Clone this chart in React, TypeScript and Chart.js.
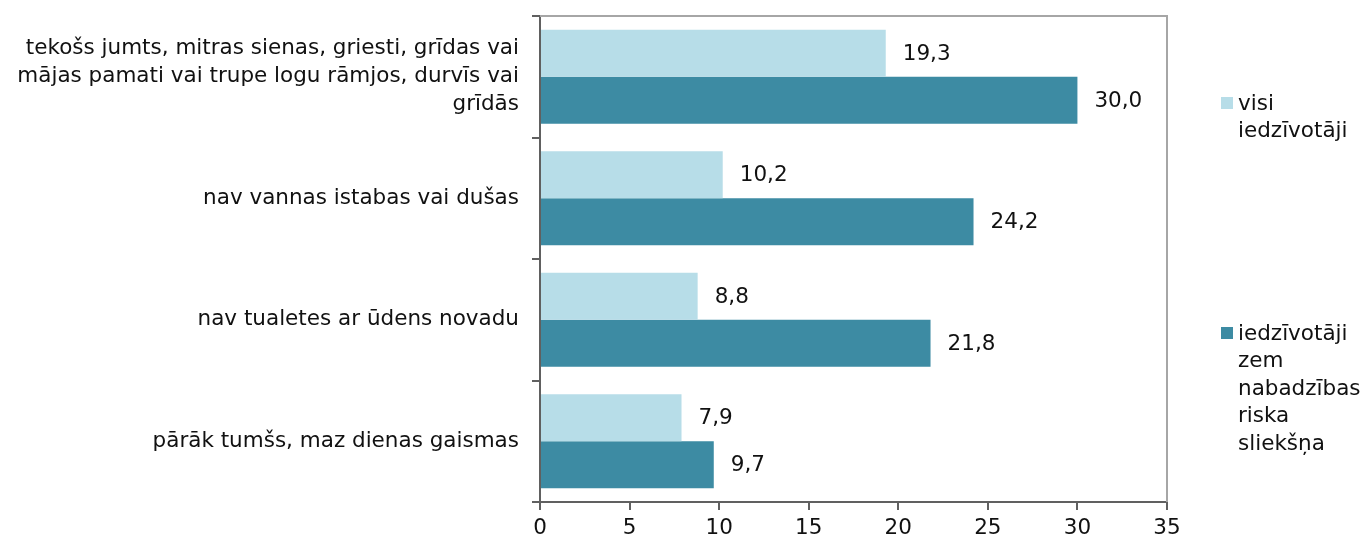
import React, { useEffect, useRef } from "react";
import { Chart, registerables } from "chart.js";

Chart.register(...registerables);

const categories: string[][] = [
  [
    "tekošs jumts, mitras sienas, griesti, grīdas vai",
    "mājas pamati vai trupe logu rāmjos, durvīs vai",
    "grīdās",
  ],
  ["nav vannas istabas vai dušas"],
  ["nav tualetes ar ūdens novadu"],
  ["pārāk tumšs, maz dienas gaismas"],
];

const allResidents: number[] = [19.3, 10.2, 8.8, 7.9];
const belowPovertyRisk: number[] = [30.0, 24.2, 21.8, 9.7];

const seriesNames: string[][] = [
  ["visi", "iedzīvotāji"],
  ["iedzīvotāji", "zem", "nabadzības", "riska", "sliekšņa"],
];

const xMin = 0;
const xMax = 35;
const xStep = 5;

const COLORS = ["#B7DDE8", "#3D8BA3"];
const FONT = "'DejaVu Sans', Verdana, sans-serif";
const FONT_SIZE = 21.5;
const TEXT = "#111111";

const fmt = (v: number) => v.toFixed(1).replace(".", ",");

const valueLabels = {
  id: "valueLabels",
  afterDatasetsDraw(chart: any) {
    const ctx = chart.ctx;
    ctx.save();
    ctx.font = `${FONT_SIZE}px ${FONT}`;
    ctx.fillStyle = TEXT;
    ctx.textAlign = "left";
    ctx.textBaseline = "middle";
    chart.data.datasets.forEach((ds: any, di: number) => {
      const meta = chart.getDatasetMeta(di);
      meta.data.forEach((bar: any, i: number) => {
        ctx.fillText(fmt(ds.data[i]), bar.x + 17, bar.y + 1);
      });
    });
    ctx.restore();
  },
};

const frame = {
  id: "frame",
  afterDraw(chart: any) {
    const { ctx, chartArea } = chart;
    ctx.save();
    ctx.strokeStyle = "#A6A6A6";
    ctx.lineWidth = 2;
    ctx.beginPath();
    ctx.moveTo(chartArea.left, chartArea.top);
    ctx.lineTo(chartArea.right, chartArea.top);
    ctx.lineTo(chartArea.right, chartArea.bottom);
    ctx.stroke();
    ctx.restore();
  },
};

const customLegend = {
  id: "customLegend",
  afterDraw(chart: any) {
    const ctx = chart.ctx;
    ctx.save();
    ctx.font = `${FONT_SIZE}px ${FONT}`;
    ctx.textAlign = "left";
    ctx.textBaseline = "middle";
    const tops = [97, 327];
    seriesNames.forEach((lines, si) => {
      const y0 = tops[si];
      ctx.fillStyle = COLORS[si];
      ctx.fillRect(1221, y0, 12, 12);
      ctx.fillStyle = TEXT;
      lines.forEach((line, li) => {
        ctx.fillText(line, 1238, y0 + 7 + li * 27.5);
      });
    });
    ctx.restore();
  },
};

export default function App() {
  const ref = useRef<HTMLCanvasElement | null>(null);

  useEffect(() => {
    if (!ref.current) return;
    const chart = new Chart(ref.current, {
      type: "bar",
      data: {
        labels: categories,
        datasets: [
          {
            label: seriesNames[0].join(" "),
            data: allResidents,
            backgroundColor: COLORS[0],
            categoryPercentage: 0.774,
            barPercentage: 1.0,
          },
          {
            label: seriesNames[1].join(" "),
            data: belowPovertyRisk,
            backgroundColor: COLORS[1],
            categoryPercentage: 0.774,
            barPercentage: 1.0,
          },
        ],
      },
      options: {
        indexAxis: "y",
        animation: false,
        responsive: false,
        maintainAspectRatio: false,
        layout: { padding: { top: 16, right: 193, bottom: 0, left: 0 } },
        plugins: {
          legend: { display: false },
          tooltip: { enabled: false },
        },
        scales: {
          x: {
            min: xMin,
            max: xMax,
            ticks: {
              stepSize: xStep,
              color: TEXT,
              font: { family: FONT, size: FONT_SIZE },
              padding: 6,
            },
            grid: {
              drawOnChartArea: false,
              drawTicks: true,
              tickLength: 8,
              color: "#606060",
              lineWidth: 2,
            },
            border: { display: true, color: "#606060", width: 2 },
            afterFit(scale: any) {
              scale.height = 38;
              scale.paddingLeft = 0;
              scale.paddingRight = 0;
            },
          },
          y: {
            ticks: {
              color: TEXT,
              font: { family: FONT, size: FONT_SIZE, lineHeight: 1.3 },
              padding: 13,
            },
            grid: {
              offset: true,
              drawOnChartArea: false,
              drawTicks: true,
              tickLength: 8,
              color: "#606060",
              lineWidth: 2,
            },
            border: { display: true, color: "#606060", width: 2 },
            afterFit(scale: any) {
              scale.width = 540;
              scale.paddingTop = 0;
              scale.paddingBottom = 0;
            },
          },
        },
      },
      plugins: [valueLabels, frame, customLegend],
    });
    return () => chart.destroy();
  }, []);

  return (
    <div style={{ position: "fixed", left: 0, top: 0, width: 1360, height: 540, background: "#fff" }}>
      <canvas ref={ref} width={1360} height={540} style={{ display: "block" }} />
    </div>
  );
}
